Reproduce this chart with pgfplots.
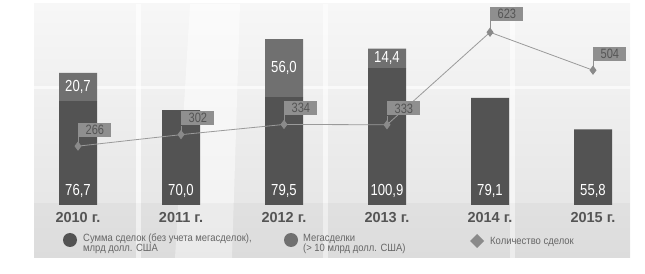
\documentclass[border=0pt]{standalone}
\usepackage{pgfplots}
\pgfplotsset{compat=1.18}
\usepackage{fontspec}
\setmainfont{Liberation Sans}
\newfontfamily\cond[FakeStretch=0.82]{Liberation Sans}
\newfontfamily\legf[FakeStretch=0.9]{Liberation Sans}
\definecolor{bardark}{HTML}{535353}
\definecolor{barmega}{HTML}{707070}
\definecolor{yeartext}{HTML}{555555}
\definecolor{legtext}{HTML}{666666}
\definecolor{linegray}{HTML}{9A9A9A}
\definecolor{markgray}{HTML}{8A8A8A}
\definecolor{boxfill}{HTML}{8F8F8F}
\definecolor{boxtext}{HTML}{555555}
\begin{document}
\begin{tikzpicture}[x=1pt,y=1pt]
\useasboundingbox (0,0) rectangle (645,273);
% background panel
\shade[top color={rgb,255:red,247;green,247;blue,247}, bottom color={rgb,255:red,226;green,226;blue,226}] (34,15) rectangle (630,269);
\fill[white,opacity=0.5] (190,269) -- (240,269) -- (232,15) -- (175,15) -- cycle;
\fill[white,opacity=0.7] (136,15) rectangle (141,269);
\fill[white,opacity=0.6] (323,15) rectangle (328,269);
\fill[white,opacity=0.6] (510,15) rectangle (515,269);
\fill[white,opacity=0.6] (34,184) rectangle (630,187);
\fill[gray,opacity=0.06] (34,15) rectangle (630,70);
% bars
\begin{axis}[at={(26.5pt,68pt)}, anchor=south west, scale only axis,
  width=618pt, height=201pt, xmin=-0.5, xmax=5.5, ymin=0, ymax=148.3,
  axis line style={draw=none}, ytick=\empty, xtick={0,...,5},
  xticklabels={2010 г.,2011 г.,2012 г.,2013 г.,2014 г.,2015 г.},
  major tick length=0pt,
  xticklabel style={anchor=base, yshift=-17pt, font=\bfseries\fontsize{14.5}{14.5}\selectfont, text=yeartext},
  ybar stacked, bar width=38pt, clip=false]
\addplot[fill=bardark, draw=none] coordinates {(0,76.7) (1,70.0) (2,79.5) (3,100.9) (4,79.1) (5,55.8)};
\addplot[fill=barmega, draw=none] coordinates {(0,20.7) (1,0) (2,42.8) (3,14.4) (4,0) (5,0)};
\end{axis}
% bar labels (same geometry)
\begin{axis}[at={(26.5pt,68pt)}, anchor=south west, scale only axis,
  width=618pt, height=201pt, xmin=-0.5, xmax=5.5, ymin=0, ymax=148.3,
  hide axis, clip=false]
\tikzset{blab/.style={text=white, font=\cond\fontsize{16}{16}\selectfont, inner sep=0pt}}
\node[blab, anchor=base, yshift=9pt] at (axis cs:0,0) {76,7};
\node[blab, anchor=base, yshift=9pt] at (axis cs:1,0) {70,0};
\node[blab, anchor=base, yshift=9pt] at (axis cs:2,0) {79,5};
\node[blab, anchor=base, yshift=9pt] at (axis cs:3,0) {100,9};
\node[blab, anchor=base, yshift=9pt] at (axis cs:4,0) {79,1};
\node[blab, anchor=base, yshift=9pt] at (axis cs:5,0) {55,8};
\node[blab] at (axis cs:0,87.05) {20,7};
\node[blab] at (axis cs:2,100.9) {56,0};
\node[blab] at (axis cs:3,108.1) {14,4};
\end{axis}
% line
\begin{axis}[at={(26.5pt,42pt)}, anchor=south west, scale only axis,
  width=618pt, height=227pt, xmin=-0.5, xmax=5.5, ymin=0, ymax=711.6,
  hide axis, clip=false]
\addplot[color=linegray, line width=0.8pt, mark=diamond*, mark size=4pt,
  mark options={fill=markgray, draw=markgray}]
  coordinates {(0,266) (1,302) (2,334) (3,333) (4,623) (5,504)};
\tikzset{vbox/.style={anchor=south west, fill=boxfill, text=boxtext, inner sep=0pt,
  minimum width=33pt, minimum height=14pt, font=\cond\fontsize{13.5}{13.5}\selectfont}}
\draw[boxfill, line width=0.8pt] (axis cs:0,266) -- ++(0pt,9pt) node[vbox] {266};
\draw[boxfill, line width=0.8pt] (axis cs:1,302) -- ++(0pt,9pt) node[vbox] {302};
\draw[boxfill, line width=0.8pt] (axis cs:2,334) -- ++(0pt,9pt) node[vbox] {334};
\draw[boxfill, line width=0.8pt] (axis cs:3,333) -- ++(0pt,9pt) node[vbox] {333};
\draw[boxfill, line width=0.8pt] (axis cs:4,623) -- ++(0pt,11pt) node[vbox] {623};
\draw[boxfill, line width=0.8pt] (axis cs:5,504) -- ++(0pt,9pt) node[vbox] {504};
\end{axis}
% legend
\tikzset{leg/.style={anchor=base west, align=left, text=legtext, inner sep=0pt,
  font=\legf\fontsize{10.5}{9.2}\selectfont}}
\fill[bardark] (70,33) circle (7);
\node[leg] at (83,21) {Сумма сделок (без учета мегасделок),\\млрд долл. США};
\fill[barmega] (291,33) circle (7);
\node[leg] at (303,21) {Мегасделки\\(> 10 млрд долл. США)};
\fill[markgray] (477,39) -- (484,32) -- (477,25) -- (470,32) -- cycle;
\node[leg] at (490,28.5) {Количество сделок};
\end{tikzpicture}
\end{document}
